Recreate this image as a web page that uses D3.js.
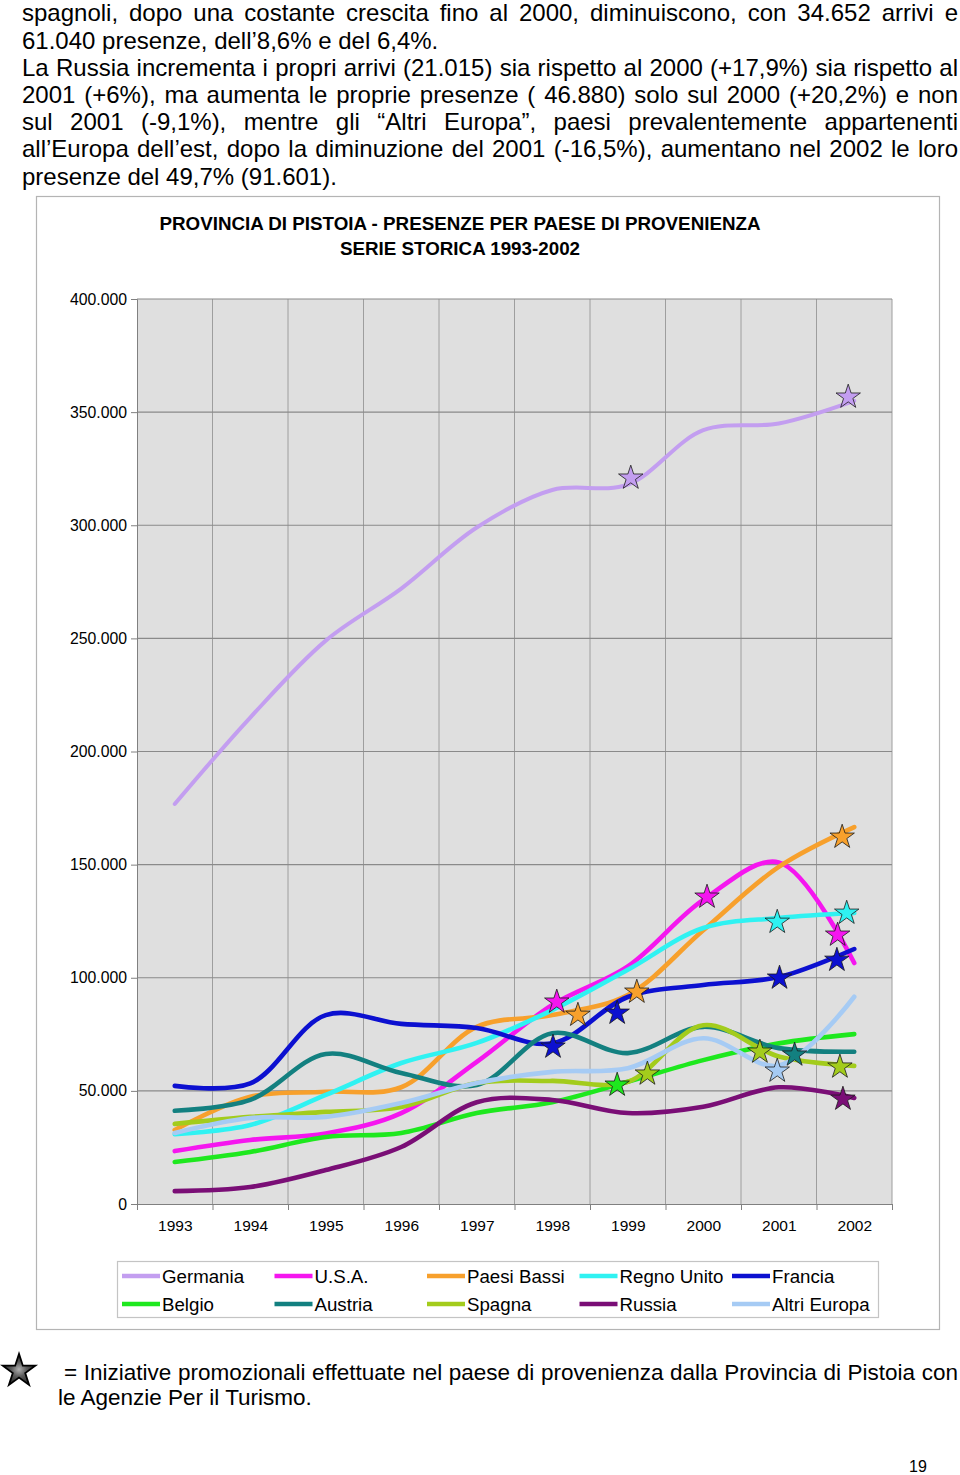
<!DOCTYPE html>
<html><head><meta charset="utf-8">
<script src="https://cdn.jsdelivr.net/npm/d3@7"></script>
<style>
body{margin:0;background:#fff}
svg{display:block}
text{font-family:"Liberation Sans",Arial,Helvetica,sans-serif;fill:#000}
</style>
</head><body>
<svg id="c" width="960" height="1475"></svg>
<script>
// ---------- DATA ----------
const years = [1993,1994,1995,1996,1997,1998,1999,2000,2001,2002];
const seriesNames = ["Germania","U.S.A.","Paesi Bassi","Regno Unito","Francia","Belgio","Austria","Spagna","Russia","Altri Europa"];
const germania    = [176800,215000,249000,272000,299000,315600,318000,342000,345000,355000];
const usa         = [23400,28300,31200,40200,62800,88000,105000,134400,151000,106500];
const paesiBassi  = [32700,47400,49600,51600,78300,83500,92400,121000,149000,166600];
const regnoUnito  = [30900,34900,48200,62300,71200,85700,103500,122000,126400,128600];
const francia     = [52200,53300,83500,79600,77800,71000,91500,96800,100300,112700];
const belgio      = [18600,23000,29600,31400,40200,45000,54000,63600,71000,75100];
const austria     = [41200,46000,66300,57900,52600,75500,66700,78300,68900,67300];
const spagna      = [35400,38500,40700,42900,53500,54400,54000,79000,65200,61040];
const russia      = [5700,7500,15000,25200,45000,46000,40200,43000,51570,46880];
const altriEuropa = [31400,38000,38500,44600,53500,58400,60000,73280,61190,91601];
const seriesValues = [germania,usa,paesiBassi,regnoUnito,francia,belgio,austria,spagna,russia,altriEuropa];
const yTicks = [0,50000,100000,150000,200000,250000,300000,350000,400000];
// promotional initiatives (stars): series, position on time axis, value
const starSeries = ["Germania","Germania","U.S.A.","U.S.A.","U.S.A.","Paesi Bassi","Paesi Bassi","Paesi Bassi",
  "Regno Unito","Regno Unito","Francia","Francia","Francia","Francia","Belgio","Austria",
  "Spagna","Spagna","Spagna","Altri Europa","Russia"];
const starYear = [1999.04,2001.92,1998.06,2000.05,2001.78,1998.34,1999.12,2001.84,
  2000.98,2001.9,1998.01,1998.86,2001.01,2001.77,1998.86,2001.21,
  1999.26,2000.75,2001.81,2000.98,2001.85];
const starValue = [320900,356700,89300,135700,118900,83500,93700,162200,
  124600,128600,69400,84400,99900,107800,52600,65900,
  57500,67200,60600,58800,46400];
const title1 = "PROVINCIA DI PISTOIA - PRESENZE PER PAESE DI PROVENIENZA";
const title2 = "SERIE STORICA 1993-2002";
const bodyLines = [
 ["spagnoli, dopo una costante crescita fino al 2000, diminuiscono, con 34.652 arrivi e", true],
 ["61.040 presenze, dell\u20198,6% e del 6,4%.", false],
 ["La Russia incrementa i propri arrivi (21.015) sia rispetto al 2000 (+17,9%) sia rispetto al", true],
 ["2001 (+6%), ma aumenta le proprie presenze ( 46.880) solo sul 2000 (+20,2%) e non", true],
 ["sul 2001 (-9,1%), mentre gli \u201cAltri Europa\u201d, paesi prevalentemente appartenenti", true],
 ["all\u2019Europa dell\u2019est, dopo la diminuzione del 2001 (-16,5%), aumentano nel 2002 le loro", true],
 ["presenze del 49,7% (91.601).", false]
];
const footLines = [
 ["= Iniziative promozionali effettuate nel paese di provenienza dalla Provincia di Pistoia con", true],
 ["le Agenzie Per il Turismo.", false]
];
const pageNumber = "19";

// ---------- STYLE ----------
const colors = {
 "Germania":"#c39ef0","U.S.A.":"#f516ef","Paesi Bassi":"#f7a02c","Regno Unito":"#2ff2f2","Francia":"#0c10d0",
 "Belgio":"#1ee81e","Austria":"#138080","Spagna":"#a3cc1c","Russia":"#7a0e76","Altri Europa":"#a6cbf4"
};

const svg = d3.select("#c");
const defs = svg.append("defs");
const rg = defs.append("radialGradient").attr("id","sg").attr("cx","50%").attr("cy","50%").attr("r","50%");
rg.append("stop").attr("offset","0%").attr("stop-color","#b0b0b0");
rg.append("stop").attr("offset","45%").attr("stop-color","#5e5e5e");
rg.append("stop").attr("offset","100%").attr("stop-color","#262626");

function justify(g, txt, x, y, width, size, just) {
  const t = g.append("text").attr("x",x).attr("y",y).style("font-size",size+"px").text(txt);
  if (just) {
    const n = (txt.match(/ /g)||[]).length;
    const w = t.node().getComputedTextLength();
    if (n>0 && w<width) t.attr("word-spacing",(width-w)/n);
  }
  return t;
}

// body text
const body = svg.append("g");
const bodyBase = [21,48.5,75.5,102.5,130,157,185];
bodyLines.forEach((l,i)=>justify(body,l[0],22,bodyBase[i],936,24,l[1]));

// chart frame
svg.append("rect").attr("x",36.5).attr("y",196.5).attr("width",903).attr("height",1133)
  .attr("fill","#fff").attr("stroke","#b4b4b4").attr("stroke-width",1.2);

svg.append("text").attr("x",460).attr("y",229.5).attr("text-anchor","middle")
  .style("font-size","18.8px").style("font-weight","bold").text(title1);
svg.append("text").attr("x",460).attr("y",254.5).attr("text-anchor","middle")
  .style("font-size","18.8px").style("font-weight","bold").text(title2);

// scales
const x = d3.scaleLinear().domain([1992.5,2002.5]).range([137,892]);
const y = d3.scaleLinear().domain([0,400000]).range([1204,299]);
const itFmt = d3.formatLocale({decimal:",",thousands:".",grouping:[3],currency:["€",""]}).format(",d");
const bounds = d3.range(1992.5,2003,1);

// plot background
svg.append("rect").attr("x",x(1992.5)).attr("y",y(400000)).attr("width",x(2002.5)-x(1992.5))
  .attr("height",y(0)-y(400000)).attr("fill","#dfdfdf");

// gridlines
svg.append("g").selectAll("line").data(bounds.slice(1)).join("line")
  .attr("x1",d=>x(d)).attr("x2",d=>x(d)).attr("y1",y(400000)).attr("y2",y(0))
  .attr("stroke","#9e9e9e").attr("stroke-width",1);
svg.append("g").selectAll("line").data(yTicks.slice(1)).join("line")
  .attr("x1",x(1992.5)).attr("x2",x(2002.5)).attr("y1",d=>y(d)).attr("y2",d=>y(d))
  .attr("stroke","#8a8a8a").attr("stroke-width",1.2);

// axes
const ya = svg.append("g").attr("transform",`translate(${x(1992.5)},0)`)
  .call(d3.axisLeft(y).tickValues(yTicks).tickFormat(itFmt).tickSize(6).tickPadding(4));
ya.select(".domain").attr("stroke","#808080");
ya.selectAll(".tick line").attr("stroke","#808080");
ya.selectAll("text").style("font-size","15.8px").style("font-family","'Liberation Sans',Arial,sans-serif");

const xt = svg.append("g").attr("transform",`translate(0,${y(0)})`)
  .call(d3.axisBottom(x).tickValues(bounds).tickFormat("").tickSize(6));
xt.select(".domain").attr("stroke","#808080");
xt.selectAll(".tick line").attr("stroke","#808080");
const xl = svg.append("g").attr("transform",`translate(0,${y(0)})`)
  .call(d3.axisBottom(x).tickValues(years).tickFormat(d3.format("d")).tickSize(0).tickPadding(15.5));
xl.select(".domain").remove();
xl.selectAll("text").style("font-size","15.5px").style("font-family","'Liberation Sans',Arial,sans-serif");

// lines
const line = d3.line().x((d,i)=>x(years[i])).y(d=>y(d)).curve(d3.curveCatmullRom.alpha(0.5));
const lg = svg.append("g");
seriesValues.forEach((vals,k)=>{
  lg.append("path").attr("d",line(vals)).attr("fill","none")
    .attr("stroke",colors[seriesNames[k]]).attr("stroke-width",k===0?4:4.6)
    .attr("stroke-linecap","round").attr("stroke-linejoin","round");
});

// stars
const star = d3.symbol().type(d3.symbolStar).size(185);
svg.append("g").selectAll("path").data(starSeries).join("path")
  .attr("d",star)
  .attr("transform",(d,i)=>`translate(${x(starYear[i])},${y(starValue[i])})`)
  .attr("fill",d=>colors[d]).attr("stroke","#1a1a1a").attr("stroke-width",0.8);

// legend
const leg = svg.append("g");
leg.append("rect").attr("x",117.5).attr("y",1261.5).attr("width",761).attr("height",56)
  .attr("fill","#fff").attr("stroke","#c4c4c4").attr("stroke-width",1.2);
seriesNames.forEach((n,i)=>{
  const col = i%5, row = Math.floor(i/5);
  const lx = 122 + col*152.5, ly = 1276 + row*28;
  leg.append("line").attr("x1",lx).attr("x2",lx+38).attr("y1",ly).attr("y2",ly)
    .attr("stroke",colors[n]).attr("stroke-width",4.6);
  leg.append("text").attr("x",lx+40).attr("y",ly+6.5).style("font-size","18.7px").text(n);
});

// footnote
svg.append("path").attr("d",d3.symbol().type(d3.symbolStar).size(330)())
  .attr("transform","translate(19,1371)").attr("fill","url(#sg)").attr("stroke","#000").attr("stroke-width",1.8);
const foot = svg.append("g");
justify(foot,footLines[0][0],64,1380,894,22.5,true);
justify(foot,footLines[1][0],58,1405,900,22.5,false);
svg.append("text").attr("x",918).attr("y",1472).attr("text-anchor","middle").style("font-size","16px").text(pageNumber);
</script>
</body></html>
